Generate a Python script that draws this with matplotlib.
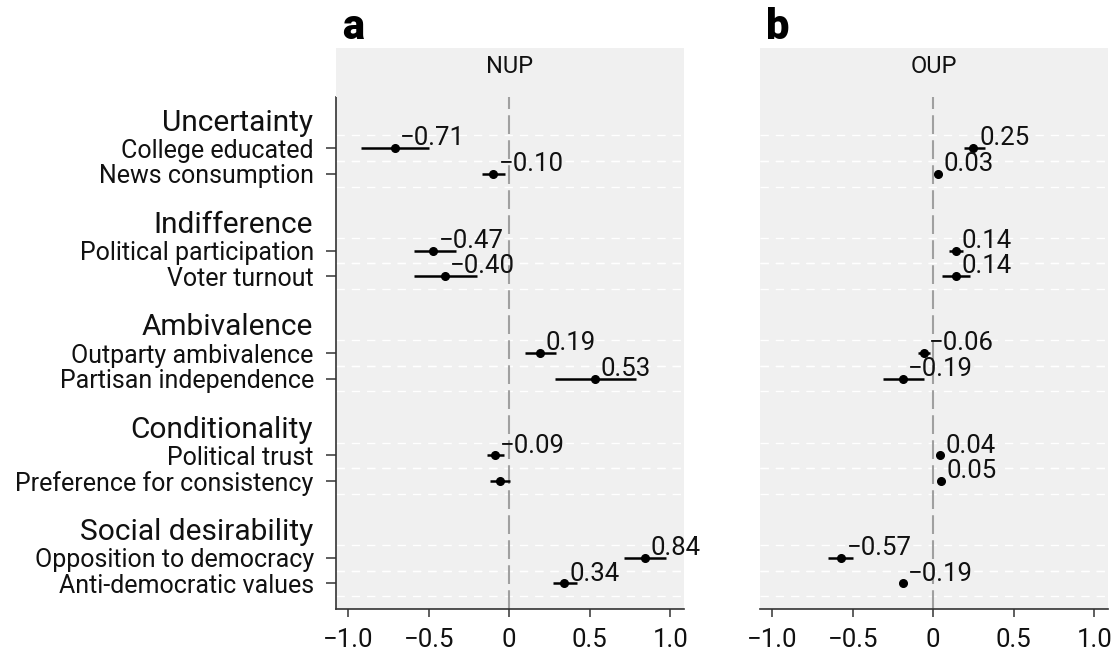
import matplotlib
matplotlib.use("Agg")
import matplotlib.pyplot as plt

plt.rcParams['font.family'] = ['Roboto', 'DejaVu Sans']

groups = ["Uncertainty", "Indifference", "Ambivalence", "Conditionality", "Social desirability"]
items = [
    "College educated", "News consumption",
    "Political participation", "Voter turnout",
    "Outparty ambivalence", "Partisan independence",
    "Political trust", "Preference for consistency",
    "Opposition to democracy", "Anti-democratic values",
]

# panel a: NUP
nup_est = [-0.71, -0.10, -0.47, -0.40, 0.19, 0.53, -0.09, -0.06, 0.84, 0.34]
nup_lo = [-0.92, -0.17, -0.59, -0.59, 0.10, 0.285, -0.14, -0.12, 0.71, 0.27]
nup_hi = [-0.50, -0.025, -0.33, -0.20, 0.29, 0.79, -0.035, 0.005, 0.975, 0.42]
nup_lab = ["−0.71", "−0.10", "−0.47", "−0.40", "0.19", "0.53", "−0.09", "", "0.84", "0.34"]

# panel b: OUP
oup_est = [0.25, 0.03, 0.14, 0.14, -0.06, -0.19, 0.04, 0.05, -0.57, -0.19]
oup_lo = [0.19, 0.02, 0.095, 0.055, -0.095, -0.31, 0.03, 0.03, -0.65, -0.20]
oup_hi = [0.32, 0.04, 0.185, 0.23, -0.02, -0.06, 0.05, 0.07, -0.50, -0.18]
oup_lab = ["0.25", "0.03", "0.14", "0.14", "−0.06", "−0.19", "0.04", "0.05", "−0.57", "−0.19"]

xticks = [-1.0, -0.5, 0, 0.5, 1.0]
xticklabels = ["−1.0", "−0.5", "0", "0.5", "1.0"]

bg = "#f0f0f0"
W, H = 1112, 652

# row positions: header at 4g, items at 4g+1, 4g+2
head_pos = [4 * g for g in range(len(groups))]
item_pos = [4 * (i // 2) + 1 + (i % 2) for i in range(len(items))]

fig = plt.figure(figsize=(W / 100, H / 100), dpi=100)


def panel(left_px, est, lo, hi, lab, title, letter, show_y):
    ax = fig.add_axes([left_px / W, (H - 609) / H, 348 / W, 512 / H])
    ax.set_facecolor(bg)
    ax.set_xlim(-1.075, 1.085)
    ax.set_ylim(19, -1)
    for p in item_pos:
        for d in (-0.5, 0.5):
            ax.axhline(p + d, color="white", lw=1.0, ls=(0, (6, 5)), zorder=1)
    ax.axvline(0, color="#a0a0a0", lw=1.5, ls=(0, (9, 3)), zorder=2)
    ax.hlines(item_pos, lo, hi, color="black", lw=1.8, zorder=3)
    ax.plot(est, item_pos, "o", color="black", ms=5.5, zorder=4)
    for x, y, t in zip(est, item_pos, lab):
        ax.annotate(t, (x, y), xytext=(4, 2), textcoords="offset points",
                    ha="left", va="baseline", fontsize=18.5, color="#111111", zorder=5)
    ax.set_xticks(xticks)
    ax.set_xticklabels(xticklabels, fontsize=18.5, color="#111111")
    ax.tick_params(axis="x", length=6, width=1.1, color="#333333", pad=8)
    for s in ["top", "right"]:
        ax.spines[s].set_visible(False)
    ax.spines["bottom"].set_color("#333333")
    ax.spines["bottom"].set_linewidth(1.2)
    if show_y:
        ax.set_yticks(item_pos)
        ax.set_yticklabels(items, fontsize=18, color="#111111")
        ax.tick_params(axis="y", length=7, width=1.1, color="#333333", pad=9)
        ax.spines["left"].set_color("#333333")
        ax.spines["left"].set_linewidth(1.2)
        for g, p in zip(groups, head_pos):
            ax.annotate(g, (0, p), xycoords=("axes fraction", "data"),
                        xytext=(-16.5, 0), textcoords="offset points",
                        ha="right", va="center", fontsize=21.5, color="#111111")
    else:
        ax.set_yticks([])
        ax.spines["left"].set_visible(False)

    strip = fig.add_axes([left_px / W, (H - 97) / H, 348 / W, 49 / H])
    strip.set_facecolor(bg)
    strip.set_xticks([])
    strip.set_yticks([])
    for s in strip.spines.values():
        s.set_visible(False)
    strip.text(0.5, 0.62, title, ha="center", va="center", fontsize=17, color="#111111",
               transform=strip.transAxes)

    fig.text((left_px + 6) / W, (H - 39) / H, letter, ha="left", va="baseline",
             fontsize=30, fontweight="black", color="black")
    return ax


panel(336, nup_est, nup_lo, nup_hi, nup_lab, "NUP", "a", True)
panel(760, oup_est, oup_lo, oup_hi, oup_lab, "OUP", "b", False)

fig.savefig("out.png", dpi=100, facecolor="white")
